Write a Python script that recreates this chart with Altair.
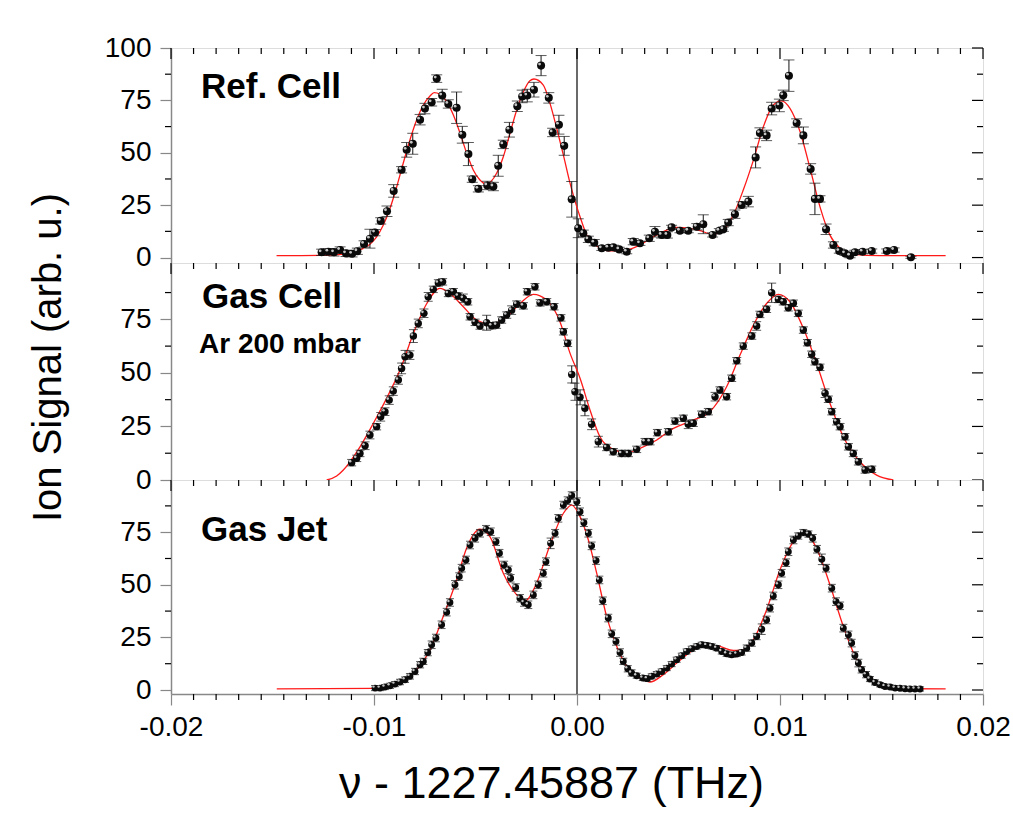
import altair as alt
import pandas as pd

# ---------------- data ----------------
# Ref. Cell (top panel): measured points (x in THz offset, signal, error)
ref_x = [-0.01258, -0.01225, -0.01197, -0.01167, -0.01138, -0.01108, -0.01082, -0.01049, -0.01020, -0.00995,
         -0.00967, -0.00936, -0.00903, -0.00864, -0.00839, -0.00809, -0.00773, -0.00749, -0.00716, -0.00691,
         -0.00664, -0.00634, -0.00593, -0.00565, -0.00535, -0.00516, -0.00486, -0.00442, -0.00412, -0.00388,
         -0.00363, -0.00333, -0.00294, -0.00270, -0.00245, -0.00212, -0.00177, -0.00139, -0.00120, -0.00089,
         -0.00063, -0.00026, 0.00006, 0.00031, 0.00056, 0.00085, 0.00122, 0.00154, 0.00179, 0.00208,
         0.00245, 0.00277, 0.00310, 0.00356, 0.00384, 0.00417, 0.00445, 0.00466, 0.00507, 0.00548,
         0.00590, 0.00622, 0.00668, 0.00701, 0.00721, 0.00745, 0.00778, 0.00811, 0.00844, 0.00880,
         0.00901, 0.00934, 0.00959, 0.00997, 0.01016, 0.01044, 0.01082, 0.01115, 0.01151, 0.01172,
         0.01197, 0.01227, 0.01263, 0.01292, 0.01320, 0.01345, 0.01369, 0.01407, 0.01452, 0.01526,
         0.01562, 0.01645]
ref_y = [2.5, 2.8, 2.5, 3.6, 2.0, 1.8, 3.0, 6.5, 9.0, 11.9,
         17.5, 22.1, 31.8, 41.9, 51.4, 54.3, 65.8, 71.1, 74.1, 85.4,
         77.3, 73.3, 71.5, 58.6, 49.4, 37.4, 32.8, 34.4, 33.9, 43.8,
         54.0, 61.0, 72.2, 76.9, 77.3, 80.1, 91.6, 76.2, 59.7, 63.4,
         53.3, 27.8, 14.0, 11.6, 8.7, 7.1, 4.4, 4.7, 4.9, 3.9,
         2.8, 7.6, 6.8, 9.2, 12.3, 10.8, 10.8, 14.4, 12.8, 12.8,
         14.7, 15.9, 10.8, 12.8, 13.5, 16.7, 20.7, 25.1, 26.7, 47.8,
         59.4, 58.3, 71.1, 72.6, 77.4, 86.8, 64.2, 58.3, 42.3, 28.0,
         28.0, 13.5, 6.0, 3.1, 2.0, 0.9, 2.5, 2.8, 3.1, 3.1,
         3.6, 0.1]
ref_err = [1.5, 1.5, 1.8, 1.5, 1.5, 1.5, 1.5, 1.5, 4.5, 1.5,
           1.5, 2.5, 3.0, 1.5, 3.5, 5.0, 2.5, 2.5, 1.8, 1.8,
           3.0, 2.0, 7.5, 4.0, 5.5, 1.5, 1.5, 2.0, 2.0, 5.0,
           2.0, 3.5, 2.5, 3.0, 3.0, 3.5, 4.8, 2.5, 2.0, 4.5,
           4.5, 8.5, 4.5, 1.5, 1.5, 1.5, 1.0, 1.0, 1.0, 1.0,
           1.0, 1.5, 1.0, 1.5, 2.5, 1.5, 1.5, 1.0, 1.0, 1.0,
           1.5, 4.5, 1.0, 1.0, 1.0, 1.5, 2.0, 1.5, 2.5, 5.0,
           2.5, 2.5, 3.0, 3.0, 2.5, 7.5, 2.0, 4.0, 2.5, 7.5,
           1.5, 2.5, 1.5, 1.0, 1.0, 1.0, 1.0, 1.0, 1.0, 1.0,
           1.0, 0.5]
ref_fit_x = [-0.0148, -0.01217, -0.01118, -0.01053, -0.0102, -0.00987, -0.00954, -0.00921, -0.00888, -0.00856,
             -0.00823, -0.0079, -0.00757, -0.00724, -0.00704, -0.00675, -0.00642, -0.00609, -0.00576, -0.00543,
             -0.00511, -0.00478, -0.00448, -0.00396, -0.00363, -0.0033, -0.00297, -0.00264, -0.00232, -0.00212,
             -0.00166, -0.00133, -0.001, -0.00067, -0.00034, -0.00001, 0.00015, 0.00048, 0.00097, 0.00163,
             0.00245, 0.0031, 0.00376, 0.00442, 0.00491, 0.00557, 0.00606, 0.00671, 0.00721, 0.0077,
             0.00819, 0.00869, 0.00918, 0.00967, 0.01008, 0.01049, 0.01099, 0.01148, 0.01197, 0.01246,
             0.01296, 0.01361, 0.01493, 0.01816]
ref_fit_y = [0.9, 1.2, 2.0, 4.4, 6.4, 9.9, 15.5, 23.5, 33.8, 45.0,
             56.1, 65.6, 72.8, 77.1, 78.7, 78.0, 74.4, 68.0, 59.3, 49.7,
             41.8, 37.0, 35.1, 40.2, 48.1, 59.3, 70.4, 79.1, 84.4, 85.2,
             82.3, 73.6, 61.7, 48.9, 35.4, 24.2, 19.5, 10.7, 5.5, 3.2,
             3.6, 6.0, 9.9, 13.1, 14.4, 13.9, 12.8, 11.1, 13.1, 20.3,
             32.2, 46.5, 62.4, 72.8, 74.8, 71.2, 60.0, 42.6, 24.2, 10.7,
             4.4, 1.5, 0.9, 0.9]

# Gas Cell, Ar 200 mbar (middle panel)
gc_x = [-0.01110, -0.01085, -0.01069, -0.01044, -0.01020, -0.00987, -0.00967, -0.00946, -0.00925, -0.00905,
        -0.00880, -0.00864, -0.00847, -0.00823, -0.00806, -0.00782, -0.00754, -0.00733, -0.00708, -0.00683,
        -0.00662, -0.00634, -0.00609, -0.00585, -0.00560, -0.00538, -0.00527, -0.00502, -0.00478, -0.00445,
        -0.00420, -0.00396, -0.00371, -0.00346, -0.00322, -0.00297, -0.00264, -0.00245, -0.00207, -0.00182,
        -0.00149, -0.00113, -0.00079, -0.00067, -0.00046, -0.00026, -0.00010, 0.00015, 0.00039, 0.00072,
        0.00105, 0.00146, 0.00179, 0.00220, 0.00253, 0.00294, 0.00335, 0.00360, 0.00396, 0.00450,
        0.00483, 0.00524, 0.00548, 0.00573, 0.00614, 0.00647, 0.00680, 0.00704, 0.00737, 0.00762,
        0.00787, 0.00819, 0.00861, 0.00885, 0.00901, 0.00934, 0.00959, 0.00992, 0.01016, 0.01041,
        0.01066, 0.01090, 0.01115, 0.01135, 0.01156, 0.01172, 0.01197, 0.01222, 0.01238, 0.01255,
        0.01279, 0.01296, 0.01320, 0.01337, 0.01361, 0.01386, 0.01419, 0.01452]
gc_y = [8.1, 10.1, 12.4, 16.0, 21.0, 24.9, 29.5, 31.9, 37.3, 41.5,
        46.7, 52.1, 57.5, 58.3, 67.2, 73.1, 77.8, 85.5, 89.0, 92.0,
        92.5, 87.1, 87.9, 85.9, 84.8, 83.2, 76.2, 73.6, 71.9, 73.4,
        72.0, 72.3, 74.7, 77.0, 79.3, 82.1, 81.3, 87.9, 90.2, 82.7,
        83.2, 80.9, 75.7, 69.2, 63.8, 49.3, 41.2, 38.6, 33.5, 26.0,
        17.9, 15.2, 13.2, 12.4, 12.4, 14.3, 17.9, 17.9, 22.1, 22.5,
        27.5, 28.8, 26.0, 26.5, 30.7, 31.9, 38.9, 42.0, 38.9, 47.5,
        55.7, 62.5, 67.2, 71.9, 77.3, 79.7, 87.4, 84.3, 83.2, 80.4,
        82.5, 77.8, 70.0, 64.1, 58.7, 55.2, 52.6, 40.5, 37.7, 31.9,
        27.2, 24.9, 20.2, 15.5, 12.4, 8.5, 4.7, 5.0]
gc_err = [1.5, 1.5, 1.5, 1.8, 1.8, 1.5, 2.0, 1.8, 2.0, 2.0,
          2.0, 2.5, 3.0, 2.0, 3.0, 2.0, 2.0, 2.0, 1.5, 1.5,
          1.5, 1.5, 1.5, 1.5, 2.0, 1.5, 1.5, 1.5, 1.5, 3.5,
          1.5, 1.5, 1.5, 1.5, 2.0, 1.5, 1.5, 1.5, 1.5, 1.5,
          1.5, 1.5, 1.5, 1.5, 1.5, 4.0, 4.0, 3.5, 3.5, 2.5,
          2.5, 1.5, 1.5, 1.5, 1.5, 1.5, 1.5, 1.5, 1.5, 1.5,
          1.5, 1.5, 2.0, 1.5, 1.5, 1.5, 2.0, 1.5, 1.5, 1.5,
          1.5, 1.5, 1.5, 2.0, 1.5, 1.5, 4.5, 1.5, 1.5, 1.5,
          1.5, 1.5, 1.5, 1.5, 1.5, 1.5, 1.5, 2.0, 1.5, 1.5,
          1.5, 1.5, 1.5, 1.5, 1.5, 1.5, 1.5, 1.5]
gc_fit_x = [-0.01233, -0.01184, -0.01151, -0.01069, -0.01003, -0.00938, -0.00872, -0.00806, -0.0074, -0.00675,
            -0.00626, -0.0056, -0.00494, -0.0042, -0.00346, -0.00281, -0.00215, -0.00149, -0.00084, -0.00034,
            0.00015, 0.00064, 0.00113, 0.00179, 0.00245, 0.0031, 0.00393, 0.00475, 0.00573, 0.00655,
            0.00737, 0.00803, 0.00869, 0.00934, 0.00992, 0.01049, 0.01115, 0.0118, 0.01246, 0.01312,
            0.01394, 0.01476, 0.01558]
gc_fit_y = [0.0, 1.9, 4.7, 15.5, 26.5, 38.1, 51.3, 68.4, 82.4, 89.5,
            87.1, 80.9, 74.7, 72.8, 76.2, 82.4, 86.7, 84.0, 73.9, 59.1,
            47.5, 32.7, 20.2, 14.3, 12.7, 14.8, 18.7, 24.1, 28.0, 31.9,
            43.5, 58.3, 72.3, 82.4, 86.7, 83.2, 70.8, 54.5, 35.8, 20.2,
            8.5, 2.3, 0.0]

# Gas Jet (bottom panel)
gj_x = [-0.00995, -0.00970, -0.00946, -0.00921, -0.00897, -0.00872, -0.00847, -0.00823, -0.00798, -0.00773,
        -0.00757, -0.00735, -0.00716, -0.00695, -0.00667, -0.00642, -0.00626, -0.00601, -0.00580, -0.00568,
        -0.00547, -0.00527, -0.00502, -0.00478, -0.00448, -0.00425, -0.00399, -0.00382, -0.00359, -0.00338,
        -0.00327, -0.00302, -0.00281, -0.00261, -0.00240, -0.00215, -0.00191, -0.00166, -0.00153, -0.00130,
        -0.00108, -0.00092, -0.00067, -0.00046, -0.00026, -0.00001, 0.00015, 0.00034, 0.00056, 0.00072,
        0.00094, 0.00110, 0.00127, 0.00154, 0.00171, 0.00192, 0.00212, 0.00228, 0.00250, 0.00269,
        0.00294, 0.00324, 0.00346, 0.00368, 0.00393, 0.00417, 0.00442, 0.00466, 0.00491, 0.00516,
        0.00540, 0.00565, 0.00590, 0.00614, 0.00639, 0.00664, 0.00688, 0.00713, 0.00737, 0.00762,
        0.00787, 0.00811, 0.00836, 0.00861, 0.00885, 0.00910, 0.00934, 0.00951, 0.00967, 0.00992,
        0.01008, 0.01030, 0.01041, 0.01066, 0.01090, 0.01115, 0.01140, 0.01161, 0.01182, 0.01206,
        0.01227, 0.01255, 0.01276, 0.01296, 0.01312, 0.01337, 0.01353, 0.01369, 0.01386, 0.01402,
        0.01424, 0.01443, 0.01468, 0.01493, 0.01517, 0.01542, 0.01567, 0.01591, 0.01616, 0.01640,
        0.01665, 0.01690]
gj_y = [0.9, 0.9, 1.4, 2.0, 2.8, 3.8, 4.9, 6.5, 8.8, 12.0,
        13.6, 17.8, 21.5, 24.7, 31.0, 37.0, 41.6, 50.0, 53.9, 57.9,
        61.8, 68.9, 72.1, 74.5, 76.4, 75.2, 70.5, 65.0, 59.4, 57.1,
        53.1, 48.7, 43.6, 41.6, 40.5, 45.2, 50.0, 55.5, 61.0, 69.7,
        74.5, 81.6, 87.9, 90.0, 92.4, 89.5, 84.7, 79.5, 74.5, 68.5,
        61.5, 52.3, 42.4, 34.2, 26.7, 23.1, 17.8, 13.6, 10.1, 8.1,
        6.8, 5.7, 5.4, 6.5, 7.6, 8.8, 10.4, 12.3, 14.4, 16.3,
        18.3, 19.6, 20.7, 21.5, 21.2, 20.7, 19.9, 18.3, 17.2, 16.7,
        17.1, 17.8, 19.9, 22.3, 25.4, 28.9, 33.3, 38.9, 44.7, 50.0,
        55.5, 60.5, 65.7, 71.3, 73.2, 74.8, 74.1, 72.1, 66.9, 62.1,
        57.9, 48.4, 42.0, 40.0, 29.4, 26.2, 22.3, 16.4, 12.8, 9.6,
        7.3, 5.2, 3.6, 2.5, 1.7, 1.4, 0.9, 0.8, 0.6, 0.5,
        0.5, 0.5]
gj_err = [1.2, 1.2, 1.2, 1.2, 1.2, 1.3, 1.3, 1.3, 1.5, 1.5,
          1.5, 1.5, 1.8, 1.8, 1.8, 1.8, 1.8, 2.0, 1.8, 1.8,
          1.8, 1.8, 1.8, 1.8, 1.8, 1.8, 1.8, 1.8, 1.8, 1.8,
          1.8, 1.8, 1.8, 1.8, 1.8, 1.8, 1.8, 1.8, 1.8, 2.5,
          1.8, 1.8, 1.8, 1.8, 1.8, 1.8, 1.8, 1.8, 1.8, 1.8,
          1.8, 1.8, 1.8, 1.8, 1.8, 1.8, 1.8, 1.5, 1.5, 1.5,
          1.2, 1.2, 1.2, 1.2, 1.2, 1.2, 1.2, 1.2, 1.2, 1.2,
          1.2, 1.2, 1.2, 1.2, 1.2, 1.2, 1.2, 1.2, 1.2, 1.2,
          1.2, 1.2, 1.5, 1.5, 1.5, 2.5, 1.8, 1.8, 1.8, 1.8,
          1.8, 1.8, 1.8, 1.8, 1.5, 1.5, 1.5, 1.8, 1.8, 2.5,
          1.8, 1.8, 1.8, 1.8, 1.8, 1.8, 1.8, 1.8, 1.8, 1.5,
          1.5, 1.2, 1.2, 1.0, 1.0, 1.0, 1.0, 1.0, 1.0, 1.0,
          1.0, 1.0]
gj_fit_x = [-0.01479, -0.0100, -0.0095, -0.00888, -0.00806, -0.00724, -0.00659, -0.00593, -0.00544, -0.00478,
            -0.00429, -0.00363, -0.00297, -0.00256, -0.00199, -0.00133, -0.00067, -0.00026, 0.00015, 0.00056,
            0.00097, 0.00146, 0.00196, 0.00245, 0.0031, 0.00359, 0.00425, 0.00491, 0.00573, 0.00639,
            0.00704, 0.0077, 0.00819, 0.00869, 0.00934, 0.0100, 0.01066, 0.01123, 0.0118, 0.01246,
            0.01312, 0.01378, 0.01443, 0.01526, 0.01624, 0.01816]
gj_fit_y = [0.5, 0.8, 1.5, 3.3, 8.0, 19.1, 34.9, 52.3, 67.4, 76.4,
            72.9, 55.5, 45.2, 42.4, 50.8, 68.9, 84.0, 87.9, 82.4, 71.3,
            55.5, 34.9, 20.7, 11.2, 5.7, 3.8, 7.3, 12.8, 19.1, 21.5,
            20.7, 18.8, 19.1, 23.9, 38.1, 57.1, 70.5, 74.5, 67.4, 50.0,
            30.2, 14.4, 5.7, 2.0, 0.6, 0.5]

# axis tick values
x_major = [-0.02, -0.01, 0.0, 0.01, 0.02]
x_minor = [m + k * 0.01 / 9 for m in x_major[:-1] for k in range(1, 9)]
y_major_top = [0, 25, 50, 75, 100]
y_major = [0, 25, 50, 75]
y_minor = [12.5, 37.5, 62.5, 87.5]

panel_labels = ["Ref. Cell", "Gas Cell", "Ar 200 mbar", "Gas Jet"]

# ---------------- layout constants ----------------
W = 812
FONT = "Liberation Sans"
TICK = 11
MINOR = 6


def panel(px, py, perr, fx, fy, ydom, height, yticks, labels, show_x, ytitle, cap, dot):
    pts = pd.DataFrame({"x": px, "y": py, "lo": [a - b for a, b in zip(py, perr)],
                        "hi": [a + b for a, b in zip(py, perr)]})
    fit = pd.DataFrame({"x": fx, "y": fy})
    xscale = alt.Scale(domain=[-0.02, 0.02], nice=False, zero=False)
    yscale = alt.Scale(domain=ydom, nice=False, zero=False)

    if show_x:
        xaxis = alt.Axis(values=x_major, labelExpr="datum.value < 0 ? '-' + format(-datum.value, '.2f') : format(datum.value, '.2f')",
                         title="\u03bd - 1227.45887 (THz)", titleFontSize=45, titleFont=FONT,
                         titleFontWeight="normal", titlePadding=20, titleX=380, titleAlign="center",
                         tickSize=TICK, labelPadding=8,
                         labelFontSize=28, labelFont=FONT, domainWidth=1.5, tickWidth=1.2,
                         grid=False, labelFlush=False)
    else:
        xaxis = None
    if ytitle:
        yaxis = alt.Axis(values=yticks, format="d", title=ytitle, titleFontSize=40, titleFont=FONT,
                         titleFontWeight="normal", titleX=-103, titleY=94, titleBaseline="bottom",
                         titleAngle=270, tickSize=TICK, labelPadding=9, labelFontSize=28,
                         labelFont=FONT, domainWidth=1.5, tickWidth=1.2, grid=False)
    else:
        yaxis = alt.Axis(values=yticks, format="d", title=None, tickSize=TICK, labelPadding=9,
                         labelFontSize=28, labelFont=FONT, domainWidth=1.5, tickWidth=1.2, grid=False)

    X = lambda f="x": alt.X(f"{f}:Q", scale=xscale, axis=xaxis)
    Y = lambda f="y": alt.Y(f"{f}:Q", scale=yscale, axis=yaxis)

    vline = alt.Chart(pd.DataFrame({"x": [0.0]})).mark_rule(color="#444", strokeWidth=1.6).encode(x=X())
    fitl = alt.Chart(fit).mark_line(color="#ff1a1a", strokeWidth=1.3, interpolate="monotone").encode(x=X(), y=Y())
    bars = alt.Chart(pts).mark_rule(color="#151515", strokeWidth=1).encode(x=X(), y=Y("lo"), y2="hi:Q")
    caps_lo = alt.Chart(pts).mark_tick(orient="horizontal", size=cap, thickness=1, color="#151515").encode(x=X(), y=Y("lo"))
    caps_hi = alt.Chart(pts).mark_tick(orient="horizontal", size=cap, thickness=1, color="#151515").encode(x=X(), y=Y("hi"))
    dots = alt.Chart(pts).mark_circle(color="#0a0a0a", size=dot, opacity=1).encode(x=X(), y=Y())
    shine = alt.Chart(pts).mark_circle(color="#d8d8d8", size=dot * 0.12, opacity=0.9).encode(
        x=X(), y=Y(), xOffset=alt.value(-1.5), yOffset=alt.value(-1.5))

    # tick marks on the frame
    xmaj = pd.DataFrame({"v": x_major})
    xmin = pd.DataFrame({"v": x_minor})
    ymaj = pd.DataFrame({"v": yticks})
    ymin = pd.DataFrame({"v": y_minor})
    tk = dict(color="black", strokeWidth=1.2)
    top_maj = alt.Chart(xmaj).mark_rule(**tk).encode(x=X("v"), y=alt.value(0), y2=alt.value(TICK))
    top_min = alt.Chart(xmin).mark_rule(**tk).encode(x=X("v"), y=alt.value(0), y2=alt.value(MINOR))
    right_maj = alt.Chart(ymaj).mark_rule(**tk).encode(y=Y("v"), x=alt.value(W), x2=alt.value(W - TICK))
    right_min = alt.Chart(ymin).mark_rule(**tk).encode(y=Y("v"), x=alt.value(W), x2=alt.value(W - MINOR))
    left_min = alt.Chart(ymin).mark_rule(**tk).encode(y=Y("v"), x=alt.value(0), x2=alt.value(-MINOR))
    layers = [vline, fitl, bars, caps_lo, caps_hi, dots, shine, top_maj, top_min, right_maj, right_min, left_min]
    if show_x:
        bot_min = alt.Chart(xmin).mark_rule(**tk).encode(x=X("v"), y=alt.value(height), y2=alt.value(height + MINOR))
        layers.append(bot_min)

    for (txt, tx, ty, fs) in labels:
        layers.append(alt.Chart(pd.DataFrame({"t": [txt]})).mark_text(
            align="left", baseline="middle", font=FONT, fontWeight="bold", fontSize=fs, color="black"
        ).encode(text="t:N", x=alt.value(tx), y=alt.value(ty)))

    return alt.layer(*layers).properties(width=W, height=height)


top = panel(ref_x, ref_y, ref_err, ref_fit_x, ref_fit_y, [-2.6, 100], 215, y_major_top,
            [(panel_labels[0], 30, 39, 35)], False, None, 11, 65)
mid = panel(gc_x, gc_y, gc_err, gc_fit_x, gc_fit_y, [0, 101.3], 217, y_major,
            [(panel_labels[1], 31, 34, 35), (panel_labels[2], 28, 82, 28)], False,
            "Ion Signal (arb. u.)", 9, 55)
bot = panel(gj_x, gj_y, gj_err, gj_fit_x, gj_fit_y, [-1.9, 99.8], 214, y_major,
            [(panel_labels[3], 30, 50, 35)], True, None, 8, 48)

chart = alt.vconcat(top, mid, bot, spacing=0, bounds="flush").properties(
    padding={"left": 27, "top": 33, "right": 0, "bottom": 0}
).configure_view(stroke="black", strokeWidth=1.5).configure_axis(
    domainColor="black", tickColor="black", labelColor="black", titleColor="black"
).configure(background="white")

chart.save("out.html", embed_options={"renderer": "svg", "actions": False})
